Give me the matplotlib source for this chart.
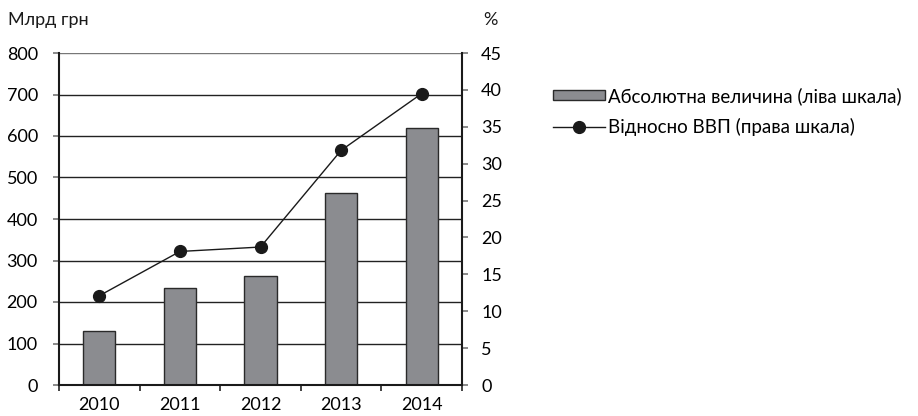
import matplotlib.pyplot as plt
import numpy as np
from matplotlib.lines import Line2D
from matplotlib.patches import Patch

plt.rcParams['font.family'] = ['Lato', 'DejaVu Sans']

years = ['2010', '2011', '2012', '2013', '2014']
absolute = [130, 234, 262, 462, 619]       # млрд грн
share_gdp = [12.1, 18.1, 18.7, 31.8, 39.5]  # % ВВП

W, H = 918, 416
fig = plt.figure(figsize=(W / 100, H / 100), dpi=100)
ax = fig.add_axes([59 / W, 1 - 385 / H, (462 - 59) / W, (385 - 53) / H])
ax2 = ax.twinx()

x = np.arange(len(years))
ax.bar(x, absolute, width=0.4, color='#8b8c90', edgecolor='#2a2a2a', linewidth=1.0, zorder=2)
ax.set_xlim(-0.5, len(years) - 0.5)
ax.set_ylim(0, 800)
ax.set_yticks(range(0, 801, 100))
for v in range(100, 801, 100):
    ax.axhline(v, color='#777777' if v == 800 else '#222222', linewidth=1.0, zorder=1)

ax2.plot(x, share_gdp, color='#1a1a1a', linewidth=1.0, marker='o', markersize=8.5,
         markerfacecolor='#1a1a1a', markeredgecolor='#1a1a1a', zorder=3)
ax2.set_ylim(0, 45)
ax2.set_yticks(range(0, 46, 5))

# осі
ax.set_xticks(np.arange(-0.5, len(years)), minor=False)
ax.set_xticklabels([])
ax.set_xticks(x, minor=True)
ax.set_xticklabels(years, minor=True)
ax.tick_params(axis='x', which='major', direction='out', length=4.3, width=1.2, color='#222222')
ax.tick_params(axis='x', which='minor', length=0, pad=9, labelsize=13)
ax.tick_params(axis='y', direction='out', length=4.3, width=1.2, color='#777777', labelsize=13, pad=11)
ax2.tick_params(axis='y', direction='out', length=4.3, width=1.2, color='#777777', labelsize=13, pad=9.5)

for a in (ax, ax2):
    a.spines['top'].set_visible(False)
    for s in ('left', 'right', 'bottom'):
        a.spines[s].set_color('#1a1a1a')
        a.spines[s].set_linewidth(1.5)
ax.spines['right'].set_visible(False)
ax2.spines['left'].set_visible(False)
ax2.spines['bottom'].set_visible(False)

fig.text(8 / W, 1 - 20 / H, 'Млрд грн', fontsize=13, va='center', ha='left', color='#1a1a1a')
fig.text(483 / W, 1 - 20 / H, '%', fontsize=13, va='center', ha='left', color='#1a1a1a')

handles = [Patch(facecolor='#8b8c90', edgecolor='#2a2a2a', linewidth=1.0),
           Line2D([], [], color='#1a1a1a', linewidth=1.0, marker='o', markersize=8.5)]
labels = ['Абсолютна величина (ліва шкала)', 'Відносно ВВП (права шкала)']
fig.legend(handles, labels, loc='upper left', bbox_to_anchor=(553 / W, 1 - 87 / H),
           frameon=False, fontsize=13.5, handlelength=2.75, handleheight=0.45,
           handletextpad=0.2, labelspacing=0.7, borderaxespad=0, borderpad=0)

fig.savefig('out.png', dpi=100)
